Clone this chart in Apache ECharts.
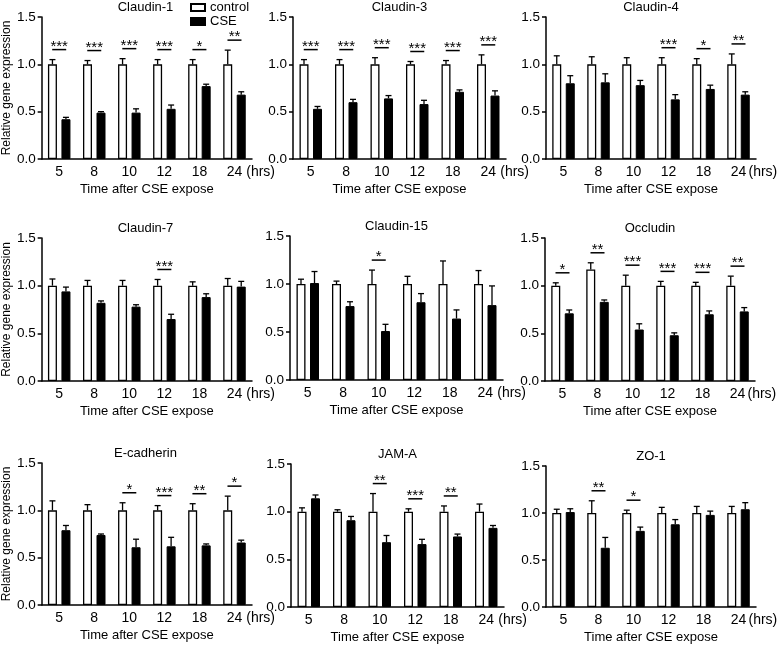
<!DOCTYPE html>
<html>
<head>
<meta charset="utf-8">
<script src="https://cdn.jsdelivr.net/npm/echarts@6/dist/echarts.min.js"></script>
<style>html,body{margin:0;padding:0;background:#fff}#c{width:778px;height:646px}</style>
</head>
<body>
<div id="c"></div>
<script>
const categories = ['5', '8', '10', '12', '18', '24'];
const panelNames = ['Claudin-1', 'Claudin-3', 'Claudin-4', 'Claudin-7', 'Claudin-15', 'Occludin', 'E-cadherin', 'JAM-A', 'ZO-1'];
const yTicks = [0, 0.5, 1.0, 1.5];

const claudin1Control = [1, 1, 1, 1, 1, 1];
const claudin1ControlErr = [0.05, 0.04, 0.06, 0.05, 0.05, 0.15];
const claudin1Cse = [0.42, 0.49, 0.49, 0.53, 0.77, 0.68];
const claudin1CseErr = [0.02, 0.01, 0.04, 0.04, 0.02, 0.03];
const claudin1Sig = ['***', '***', '***', '***', '*', '**'];

const claudin3Control = [1, 1, 1, 1, 1, 1];
const claudin3ControlErr = [0.05, 0.05, 0.07, 0.03, 0.04, 0.10];
const claudin3Cse = [0.53, 0.60, 0.64, 0.58, 0.71, 0.67];
const claudin3CseErr = [0.025, 0.03, 0.03, 0.04, 0.02, 0.05];
const claudin3Sig = ['***', '***', '***', '***', '***', '***'];

const claudin4Control = [1, 1, 1, 1, 1, 1];
const claudin4ControlErr = [0.09, 0.08, 0.07, 0.07, 0.06, 0.11];
const claudin4Cse = [0.80, 0.81, 0.78, 0.63, 0.74, 0.68];
const claudin4CseErr = [0.08, 0.09, 0.05, 0.05, 0.04, 0.03];
const claudin4Sig = ['', '', '', '***', '*', '**'];

const claudin7Control = [1, 1, 1, 1, 1, 1];
const claudin7ControlErr = [0.07, 0.055, 0.055, 0.065, 0.04, 0.075];
const claudin7Cse = [0.94, 0.82, 0.78, 0.65, 0.88, 0.99];
const claudin7CseErr = [0.045, 0.02, 0.02, 0.05, 0.035, 0.055];
const claudin7Sig = ['', '', '', '***', '', ''];

const claudin15Control = [1, 1, 1, 1, 1, 1];
const claudin15ControlErr = [0.05, 0.03, 0.145, 0.08, 0.24, 0.14];
const claudin15Cse = [1.01, 0.77, 0.51, 0.81, 0.64, 0.78];
const claudin15CseErr = [0.12, 0.045, 0.07, 0.09, 0.09, 0.20];
const claudin15Sig = ['', '', '*', '', '', ''];

const occludinControl = [1, 1.17, 1, 1, 1, 1];
const occludinControlErr = [0.03, 0.07, 0.11, 0.045, 0.035, 0.10];
const occludinCse = [0.71, 0.83, 0.54, 0.48, 0.70, 0.73];
const occludinCseErr = [0.035, 0.02, 0.06, 0.025, 0.035, 0.04];
const occludinSig = ['*', '**', '***', '***', '***', '**'];

const ecadherinControl = [1, 1, 1, 1, 1, 1];
const ecadherinControlErr = [0.10, 0.06, 0.08, 0.05, 0.07, 0.15];
const ecadherinCse = [0.79, 0.74, 0.61, 0.62, 0.63, 0.66];
const ecadherinCseErr = [0.05, 0.01, 0.085, 0.095, 0.015, 0.025];
const ecadherinSig = ['', '', '*', '***', '**', '*'];

const jamaControl = [1, 1, 1, 1, 1, 1];
const jamaControlErr = [0.04, 0.02, 0.19, 0.03, 0.06, 0.08];
const jamaCse = [1.14, 0.91, 0.68, 0.66, 0.74, 0.83];
const jamaCseErr = [0.035, 0.04, 0.07, 0.05, 0.025, 0.025];
const jamaSig = ['', '', '**', '***', '**', ''];

const zo1Control = [1, 1, 1, 1, 1, 1];
const zo1ControlErr = [0.04, 0.13, 0.03, 0.06, 0.07, 0.07];
const zo1Cse = [1.01, 0.63, 0.81, 0.88, 0.98, 1.04];
const zo1CseErr = [0.035, 0.11, 0.04, 0.05, 0.04, 0.07];
const zo1Sig = ['', '**', '*', '', '', ''];

const panelData = [
  [claudin1Control, claudin1ControlErr, claudin1Cse, claudin1CseErr, claudin1Sig],
  [claudin3Control, claudin3ControlErr, claudin3Cse, claudin3CseErr, claudin3Sig],
  [claudin4Control, claudin4ControlErr, claudin4Cse, claudin4CseErr, claudin4Sig],
  [claudin7Control, claudin7ControlErr, claudin7Cse, claudin7CseErr, claudin7Sig],
  [claudin15Control, claudin15ControlErr, claudin15Cse, claudin15CseErr, claudin15Sig],
  [occludinControl, occludinControlErr, occludinCse, occludinCseErr, occludinSig],
  [ecadherinControl, ecadherinControlErr, ecadherinCse, ecadherinCseErr, ecadherinSig],
  [jamaControl, jamaControlErr, jamaCse, jamaCseErr, jamaSig],
  [zo1Control, zo1ControlErr, zo1Cse, zo1CseErr, zo1Sig]
];

// layout: [left, top, width, height]
const layout = [
  [39, 17, 213, 142], [293, 17, 213, 142], [546, 17, 210, 142],
  [39, 238, 213, 143], [290, 236, 213, 144], [545, 238, 210, 143],
  [39, 463, 213, 142], [291, 464, 213, 143], [546, 466, 210, 141]
];

const FONT = 'Liberation Sans, Arial, sans-serif';
const BAR_W = 9;
const OFFSET = 6.75;

const grids = [], xAxes = [], yAxes = [], series = [], titles = [];

function sigText(params) {
  const d = series[params.seriesIndex].data[params.dataIndex];
  return d ? d[3] : '';
}

panelData.forEach((p, i) => {
  const [l, t, w, h] = layout[i];
  const [ctrl, ctrlErr, cse, cseErr, sig] = p;
  grids.push({ left: l, top: t, width: w, height: h, containLabel: false });
  xAxes.push({
    type: 'category', gridIndex: i, data: categories,
    axisLine: { lineStyle: { color: '#000', width: 1.5 } },
    axisTick: { show: false },
    axisLabel: { color: '#000', fontSize: 14, fontFamily: FONT, margin: 6 },
    name: 'Time after CSE expose', nameLocation: 'middle', nameGap: 24,
    nameTextStyle: { color: '#000', fontSize: 13, fontFamily: FONT }
  });
  yAxes.push({
    type: 'value', gridIndex: i, min: yTicks[0], max: yTicks[yTicks.length - 1], interval: 0.5,
    axisLine: { show: true, lineStyle: { color: '#000', width: 1.5 } },
    axisTick: { show: true, length: 4, lineStyle: { color: '#000', width: 1.5 } },
    splitLine: { show: false },
    axisLabel: { color: '#000', fontSize: 13.5, fontFamily: FONT, margin: 6, formatter: v => v.toFixed(1) },
    name: (i % 3 === 0) ? 'Relative gene expression' : '',
    nameLocation: 'middle', nameGap: 26,
    nameTextStyle: { color: '#000', fontSize: 12, fontFamily: FONT }
  });
  series.push({
    type: 'bar', name: 'control', xAxisIndex: i, yAxisIndex: i, data: ctrl,
    barWidth: BAR_W, barGap: '50%',
    itemStyle: { color: '#fff', borderColor: '#000', borderWidth: 1.3 },
    silent: true, animation: false
  });
  series.push({
    type: 'bar', name: 'CSE', xAxisIndex: i, yAxisIndex: i, data: cse,
    barWidth: BAR_W, barGap: '50%',
    itemStyle: { color: '#000', borderColor: '#000', borderWidth: 1 },
    silent: true, animation: false
  });
  [[ctrl, ctrlErr, -OFFSET], [cse, cseErr, OFFSET]].forEach(([m, e, off]) => {
    series.push({
      type: 'custom', xAxisIndex: i, yAxisIndex: i, silent: true, animation: false, z: 3,
      data: m.map((v, k) => [k, v, e[k]]),
      encode: { x: 0, y: 1 },
      renderItem: (params, api) => {
        const idx = api.value(0), mean = api.value(1), err = api.value(2);
        const p0 = api.coord([idx, mean]);
        const p1 = api.coord([idx, mean + err]);
        const x = p0[0] + off;
        return {
          type: 'group', children: [
            { type: 'line', shape: { x1: x, y1: p0[1], x2: x, y2: p1[1] }, style: { stroke: '#000', lineWidth: 1.3 } },
            { type: 'line', shape: { x1: x - 3, y1: p1[1], x2: x + 3, y2: p1[1] }, style: { stroke: '#000', lineWidth: 1.3 } }
          ]
        };
      }
    });
  });
  series.push({
    type: 'custom', xAxisIndex: i, yAxisIndex: i, silent: true, animation: false, z: 4,
    data: sig.map((s, k) => [k, ctrl[k] + ctrlErr[k], cse[k] + cseErr[k], s]).filter(d => d[3]),
    encode: { x: 0, y: 1 },
    renderItem: (params, api) => {
      const idx = api.value(0);
      const a = api.coord([idx, api.value(1)]);
      const b = api.coord([idx, api.value(2)]);
      const cx = a[0];
      const y = Math.min(a[1], b[1]) - 10;
      return {
        type: 'group', children: [
          { type: 'line', shape: { x1: cx - 7, y1: y, x2: cx + 7, y2: y }, style: { stroke: '#000', lineWidth: 1.5 } },
          { type: 'text', x: cx, y: y - 3, style: { text: sigText(params), fill: '#000', font: '15px ' + FONT, textAlign: 'center', textVerticalAlign: 'middle' } }
        ]
      };
    }
  });
  titles.push({
    text: panelNames[i], left: l + w / 2, top: t - 16, textAlign: 'center', padding: 0,
    textStyle: { color: '#000', fontSize: 13, fontWeight: 'normal', fontFamily: FONT }
  });
  titles.push({
    text: '(hrs)', left: l + w * 11 / 12 + (i % 3 === 2 ? 10 : 12), top: t + h + 6, padding: 0,
    textStyle: { color: '#000', fontSize: 14, fontWeight: 'normal', fontFamily: FONT }
  });
});

const chart = echarts.init(document.getElementById('c'), null, { renderer: 'canvas' });
chart.setOption({
  animation: false,
  backgroundColor: '#fff',
  title: titles,
  legend: {
    data: ['control', 'CSE'], left: 190, top: 1, orient: 'vertical', padding: 0,
    icon: 'rect', itemWidth: 14, itemHeight: 7, itemGap: 1,
    textStyle: { color: '#000', fontSize: 13, fontFamily: FONT, lineHeight: 10 }
  },
  grid: grids, xAxis: xAxes, yAxis: yAxes, series: series
});
</script>
</body>
</html>
